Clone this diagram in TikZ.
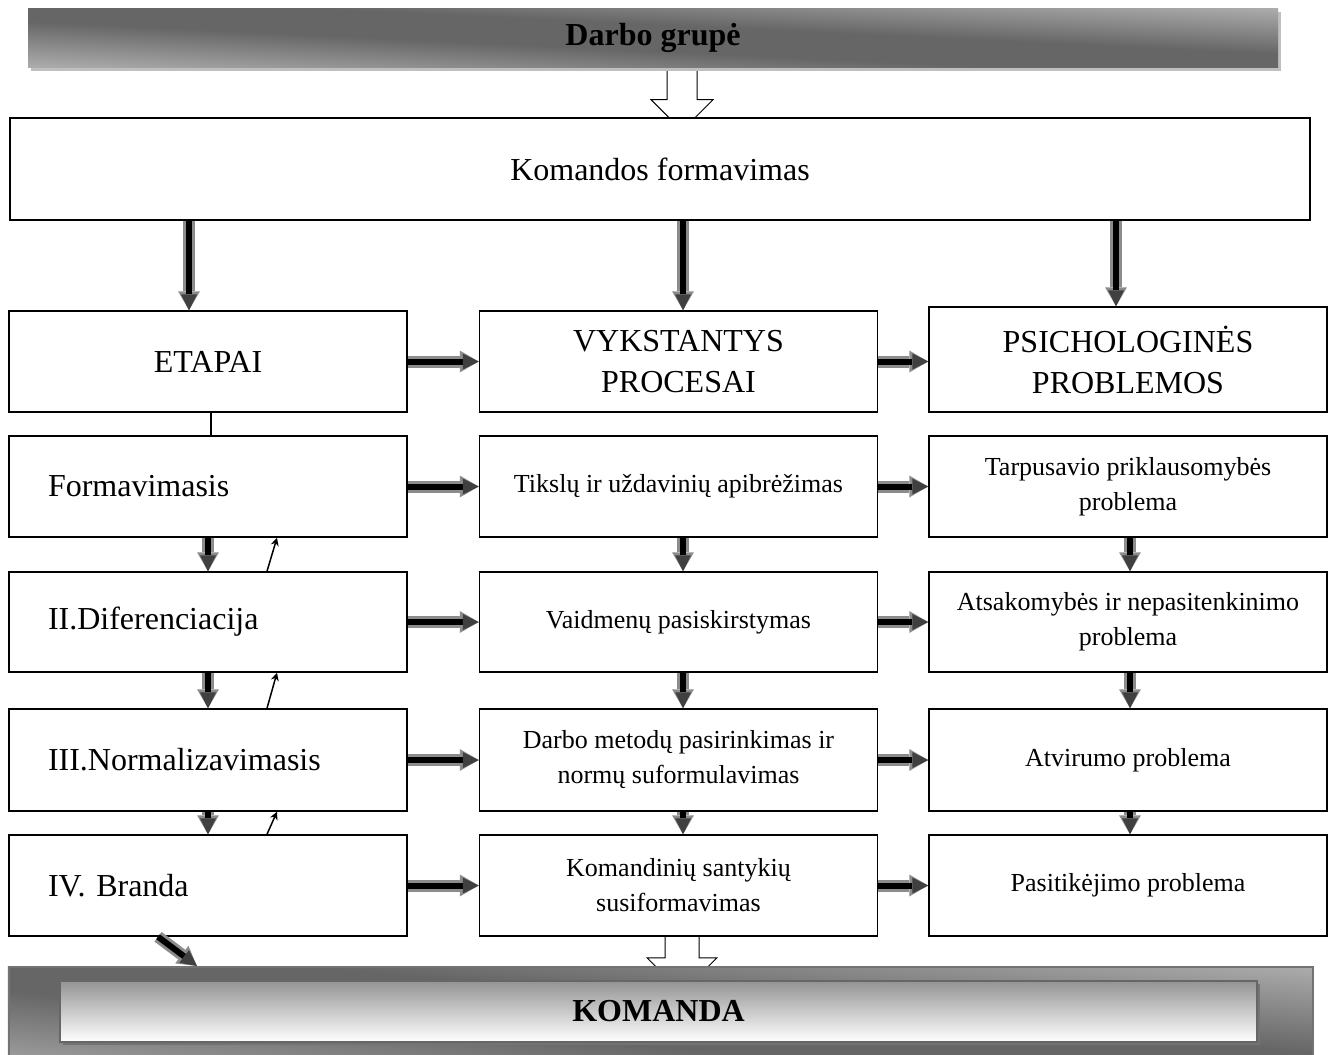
\documentclass[tikz,border=0pt]{standalone}
\usepackage{fontspec}
\setmainfont{Liberation Serif}
\usetikzlibrary{arrows.meta,calc,shadows}
\definecolor{lightg}{gray}{0.80}
\definecolor{darkg}{gray}{0.40}
\pgfdeclareverticalshading{bandshade}{100bp}{color(0bp)=(lightg); color(2bp)=(lightg); color(42bp)=(darkg); color(58bp)=(darkg); color(98bp)=(lightg); color(100bp)=(lightg)}
\pgfdeclarelayer{bg}
\pgfsetlayers{bg,main}
\newcommand\fatarrow[2]{%
  \draw[fatback] #1 -- #2;
  \draw[fatfront] #1 -- #2;}
\frenchspacing
\begin{document}
\begin{tikzpicture}[x=1pt,y=-1pt,
 box/.style={draw=black,line width=1.5pt,fill=white,inner sep=0pt,align=center,font=\fontsize{32pt}{41pt}\selectfont},
 sbox/.style={box,font=\fontsize{26pt}{35pt}\selectfont},
 lbox/.style={box,text width=320pt,inner xsep=39pt,align=left},
 colA/.style={minimum width=398pt,minimum height=101pt},
 fatback/.style={draw=black!45,line width=12pt,-{Triangle[length=19pt,width=22pt,line width=0pt,fill=black!45]}},
 fatfront/.style={draw=black,line width=6pt,-{Triangle[length=16pt,width=16pt,line width=0pt,fill=black!75]}},
 thinarr/.style={draw=black,line width=1.5pt,-{Stealth[length=8pt,width=8pt]}},
 hollow/.style={draw=black,line width=1pt,fill=white},
 bigbold/.style={font=\bfseries\fontsize{32pt}{38pt}\selectfont}]
\useasboundingbox (0,0) rectangle (1331,1055);

% banner top
\node[minimum width=1250pt,minimum height=59pt,inner sep=0pt,bigbold] (dg) at (653,37.5) {Darbo grupė};

\node[box,minimum width=1300pt,minimum height=102pt] (kf) at (660,169) {Komandos formavimas};

% row 0
\node[box,colA] (et) at (208,361.5) {ETAPAI};
\node[box,colA] (vp) at (678.5,361.5) {VYKSTANTYS\\PROCESAI};
\node[box,colA,minimum height=105pt] (pp) at (1128,359.5) {PSICHOLOGINĖS\\PROBLEMOS};

% left column
\node[lbox,colA] (l1) at (208,486.5) {Formavimasis};
\node[lbox,colA,minimum height=100pt] (l2) at (208,622) {II.Diferenciacija};
\node[lbox,colA,minimum height=102pt] (l3) at (208,760) {III.Normalizavimasis};
\node[lbox,colA] (l4) at (208,885.5) {IV.\ Branda};

% middle column
\node[sbox,colA] (m1) at (678.5,486.5) {Tikslų ir uždavinių apibrėžimas};
\node[sbox,colA,minimum height=100pt] (m2) at (678.5,622) {Vaidmenų pasiskirstymas};
\node[sbox,colA,minimum height=102pt] (m3) at (678.5,760) {Darbo metodų pasirinkimas ir\\normų suformulavimas};
\node[sbox,colA] (m4) at (678.5,885.5) {Komandinių santykių\\susiformavimas};

% right column
\node[sbox,colA] (p1) at (1128,486.5) {Tarpusavio priklausomybės\\problema};
\node[sbox,colA,minimum height=100pt] (p2) at (1128,622) {Atsakomybės ir nepasitenkinimo\\problema};
\node[sbox,colA,minimum height=102pt] (p3) at (1128,760) {Atvirumo problema};
\node[sbox,colA] (p4) at (1128,885.5) {Pasitikėjimo problema};

% bottom banner
\node[draw=black!55,line width=1.5pt,minimum width=1304pt,minimum height=112pt,inner sep=0pt,anchor=north west] (ko) at (8,966) {};
\node[top color=black!42,bottom color=white,draw=black!60,line width=1.5pt,minimum width=1197pt,minimum height=61pt,inner sep=0pt,
  drop shadow={shadow xshift=3pt,shadow yshift=-3pt,fill=black!55,opacity=1},bigbold] (km) at (658.5,1011.5) {KOMANDA};

% x positions
\coordinate (xa) at (189,0);
\coordinate (xb) at (683,0);
\coordinate (xc) at (1116,0);
\coordinate (xl) at (208,0);
\coordinate (xr) at (1130,0);
\coordinate (xt1) at (267,0);
\coordinate (xt2) at (277,0);
\coordinate (xe) at (211,0);
\coordinate (xd1) at (158,0);
\coordinate (xd2) at (197,0);
\coordinate (xh) at (682,0);

% background: hollow arrows and banner shadings
\begin{pgfonlayer}{bg}
\draw[hollow] ($(dg.south -| xh)+(-15,0)$) -- ++(0,32.5) -- ++(-16,0) -- ++(31,31) -- ++(31,-31) -- ++(-16,0) -- ++(0,-32.5);
\draw[hollow] ($(m4.south -| xh)+(-17,0)$) -- ++(0,21) -- ++(-18,0) -- ++(35,35) -- ++(35,-35) -- ++(-18,0) -- ++(0,-21);
\fill[black!25] ($(dg.south west)+(3,4)$) rectangle ($(dg.north east)+(3,4)$);
\begin{scope}[transform canvas={xscale=21.1864}]
  \shade[shading=bandshade,shading angle=-45] (1.3216,8) rectangle (60.3216,67);
\end{scope}
\begin{scope}[transform canvas={xscale=11.6429}]
  \shade[shading=bandshade,shading angle=-45] (0.6871,966) rectangle (112.6871,1078);
\end{scope}
\end{pgfonlayer}

% from Komandos formavimas
\fatarrow{(kf.south -| xa)}{(et.north -| xa)}
\fatarrow{(kf.south -| xb)}{(vp.north -| xb)}
\fatarrow{(kf.south -| xc)}{(pp.north -| xc)}

% horizontal arrows
\fatarrow{(et.east)}{(vp.west)}
\fatarrow{(vp.east)}{(pp.west |- vp.east)}
\fatarrow{(l1.east)}{(m1.west)}
\fatarrow{(m1.east)}{(p1.west)}
\fatarrow{(l2.east)}{(m2.west)}
\fatarrow{(m2.east)}{(p2.west)}
\fatarrow{(l3.east)}{(m3.west)}
\fatarrow{(m3.east)}{(p3.west)}
\fatarrow{(l4.east)}{(m4.west)}
\fatarrow{(m4.east)}{(p4.west)}

% vertical arrows between rows
\fatarrow{(l1.south -| xl)}{(l2.north -| xl)}
\fatarrow{(l2.south -| xl)}{(l3.north -| xl)}
\fatarrow{(l3.south -| xl)}{(l4.north -| xl)}
\fatarrow{(m1.south -| xb)}{(m2.north -| xb)}
\fatarrow{(m2.south -| xb)}{(m3.north -| xb)}
\fatarrow{(m3.south -| xb)}{(m4.north -| xb)}
\fatarrow{(p1.south -| xr)}{(p2.north -| xr)}
\fatarrow{(p2.south -| xr)}{(p3.north -| xr)}
\fatarrow{(p3.south -| xr)}{(p4.north -| xr)}

% thin upward arrows
\draw[thinarr] (l2.north -| xt1) -- (l1.south -| xt2);
\draw[thinarr] (l3.north -| xt1) -- (l2.south -| xt2);
\draw[thinarr] (l4.north -| xt1) -- (l3.south -| xt2);

% line ETAPAI - Formavimasis
\draw[line width=1.2pt] (et.south -| xe) -- (l1.north -| xe);

% diagonal arrow to KOMANDA
\fatarrow{(l4.south -| xd1)}{(ko.north -| xd2)}
\end{tikzpicture}
\end{document}
